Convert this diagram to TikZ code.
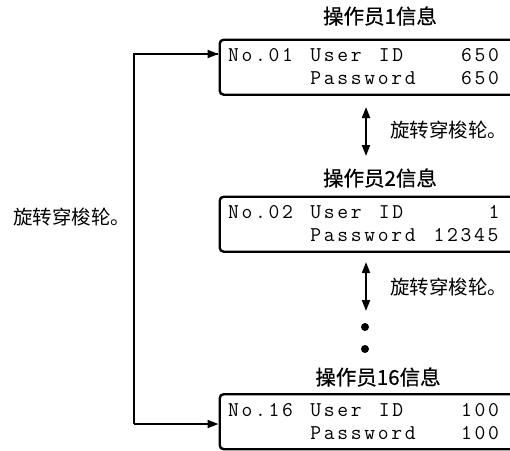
\documentclass[tikz,border=0pt]{standalone}
\usepackage{fontspec}
\setmainfont{Liberation Sans}
\newfontfamily\cjk{Noto Sans CJK SC}
\newfontfamily\cjkb[FakeBold=0.6]{Noto Sans CJK SC}
\newfontfamily\monof[LetterSpace=12.7]{Latin Modern Mono}
\usetikzlibrary{arrows.meta}
\tikzset{
  box/.style={draw, line width=2.4pt, rounded corners=4pt, minimum width=340pt, minimum height=55pt, anchor=north west, inner sep=0pt},
  mono/.style={font=\monof\fontsize{21}{21}\selectfont, anchor=base west, inner sep=0pt},
  title/.style={font=\cjkb\fontsize{20.5}{20.5}\selectfont, inner sep=0pt},
  lbl/.style={font=\cjk\fontsize{19.5}{19.5}\selectfont, inner sep=0pt, anchor=west},
  conn/.style={line width=2pt, -{Triangle[length=11pt,width=8pt]}},
  dbl/.style={line width=2pt, {Triangle[length=11pt,width=8pt]}-{Triangle[length=11pt,width=8pt]}},
  dotc/.style={circle, fill, inner sep=0pt, minimum size=8pt}
}
\newcommand\tok[4]{\node[mono] (#1) at ({228+13.7*#2},#3) {#4};}
\begin{document}
\begin{tikzpicture}[x=1pt,y=-1pt]
\useasboundingbox (0,0) rectangle (510,450);
\clip (0,0) rectangle (510,450);
% titles
\node[title] (t1) at (380,16) {操作员1信息};
\node[title] (t2) at (380,178) {操作员2信息};
\node[title] (t3) at (378,377) {操作员16信息};
% boxes
\node[box] (b1) at (218.5,38.5) {};
\node[box] (b2) at (218.5,195.5) {};
\node[box] (b3) at (218.5,393) {};
% box 1 text
\tok{a1}{0}{61}{No.01}
\tok{a2}{6}{61}{User}
\tok{a3}{11}{61}{ID}
\tok{a4}{17}{61}{650}
\tok{a5}{6}{84}{Password}
\tok{a6}{17}{84}{650}
% box 2 text
\tok{c1}{0}{218}{No.02}
\tok{c2}{6}{218}{User}
\tok{c3}{11}{218}{ID}
\tok{c4}{19}{218}{1}
\tok{c5}{6}{241}{Password}
\tok{c6}{15}{241}{12345}
% box 3 text
\tok{d1}{0}{416}{No.16}
\tok{d2}{6}{416}{User}
\tok{d3}{11}{416}{ID}
\tok{d4}{17}{416}{100}
\tok{d5}{6}{439}{Password}
\tok{d6}{17}{439}{100}
% left connector
\coordinate (lt) at (134,54);
\coordinate (lb) at (134,424);
\draw[line width=2pt] (lt -| b1.west) ++(-1,0) -- (lt) -- (lb);
\draw[conn] (lt) -- (lt -| b1.west);
\draw[conn] (lb) -- (lb -| b3.west);
\node[lbl] (ll) at (13,217) {旋转穿梭轮。};
% middle arrows
\coordinate (m1a) at (366,107);
\coordinate (m1b) at (366,156);
\draw[dbl] (m1a) -- (m1b);
\node[lbl] (r1) at (390,130) {旋转穿梭轮。};
\coordinate (m2a) at (366,262);
\coordinate (m2b) at (366,311);
\draw[dbl] (m2a) -- (m2b);
\node[lbl] (r2) at (390,287) {旋转穿梭轮。};
\node[dotc] (p1) at (365,327) {};
\node[dotc] (p2) at (365,349) {};
\end{tikzpicture}
\end{document}
